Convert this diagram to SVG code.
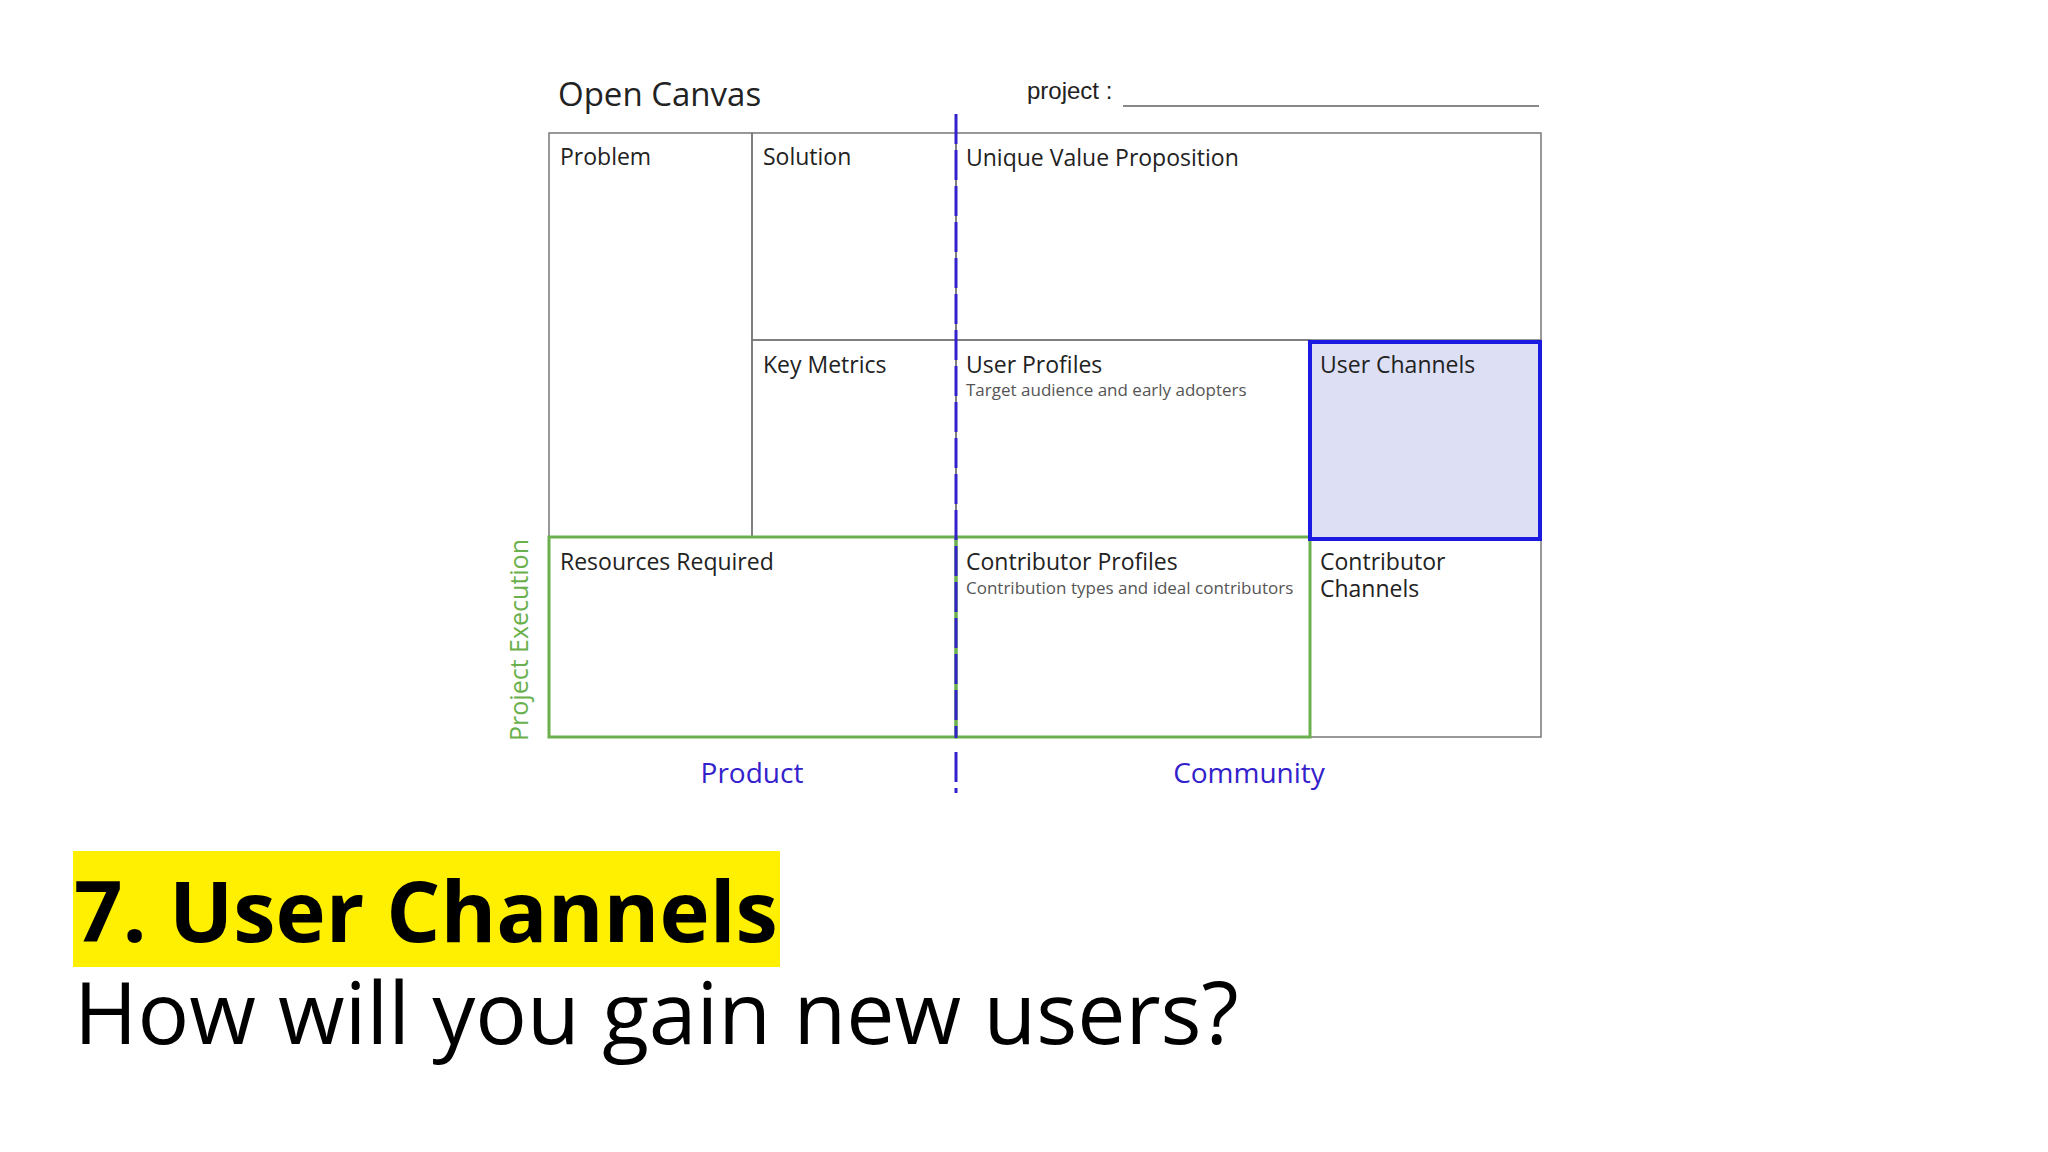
<svg xmlns="http://www.w3.org/2000/svg" width="2048" height="1152" viewBox="0 0 2048 1152">
<style>
.l{font-family:"Open Sans","Noto Sans",sans-serif;font-size:23px;fill:#222}
.s{font-family:"Open Sans","Noto Sans",sans-serif;font-size:17px;fill:#555}
.c{fill:none;stroke:#777;stroke-width:1.5}
.ax{font-family:"Open Sans","Noto Sans",sans-serif;font-size:28px;fill:#3322cc;text-anchor:middle}
.d{stroke:#3322cc;stroke-width:3;stroke-dasharray:30,6}
</style>
<rect width="2048" height="1152" fill="#fff"/>
<text x="558" y="106" font-family="Open Sans, sans-serif" font-size="33" fill="#222">Open Canvas</text>
<text x="1027" y="99" font-family="Liberation Sans, sans-serif" font-size="24" fill="#222">project :</text>
<line x1="1123" y1="106" x2="1539" y2="106" stroke="#888" stroke-width="2"/>
<g id="problem"><rect class="c" x="549" y="133" width="203" height="404"/><text class="l" x="560" y="165">Problem</text></g>
<g id="solution"><rect class="c" x="752" y="133" width="204" height="207"/><text class="l" x="763" y="165">Solution</text></g>
<g id="uvp"><rect class="c" x="956" y="133" width="585" height="207"/><text class="l" x="966" y="166">Unique Value Proposition</text></g>
<g id="keymetrics"><rect class="c" x="752" y="340" width="204" height="197"/><text class="l" x="763" y="373">Key Metrics</text></g>
<g id="userprofiles"><rect class="c" x="956" y="340" width="354" height="197"/><text class="l" x="966" y="373">User Profiles</text><text class="s" x="966" y="396">Target audience and early adopters</text></g>
<g id="contribchannels"><rect class="c" x="1310" y="537" width="231" height="200"/><text class="l" x="1320" y="570">Contributor</text><text class="l" x="1320" y="597">Channels</text></g>
<g id="resources"><rect x="549" y="537" width="407" height="200" fill="none" stroke="#6ab04c" stroke-width="3"/><text class="l" x="560" y="570">Resources Required</text></g>
<g id="contribprofiles"><rect x="956" y="537" width="354" height="200" fill="none" stroke="#6ab04c" stroke-width="3"/><text class="l" x="966" y="570">Contributor Profiles</text><text class="s" x="966" y="594">Contribution types and ideal contributors</text></g>
<g id="userchannels"><rect x="1310" y="342" width="230" height="197" fill="#dde0f5" stroke="#1a1ae0" stroke-width="4"/><text class="l" x="1320" y="373">User Channels</text></g>
<g id="connectors"><line class="d" x1="956" y1="114" x2="956" y2="738"/><line class="d" x1="956" y1="752" x2="956" y2="793"/></g>
<text transform="translate(528,640) rotate(-90)" text-anchor="middle" font-family="Open Sans, sans-serif" font-size="25" fill="#6ab04c">Project Execution</text>
<text class="ax" x="752" y="783">Product</text>
<text class="ax" x="1249" y="783">Community</text>
<rect x="73" y="851" width="707" height="116" fill="#ffef00"/>
<text x="74" y="942" font-family="Open Sans, sans-serif" font-weight="bold" font-size="85" fill="#000">7. User Channels</text>
<text x="74" y="1044" font-family="Open Sans, sans-serif" font-size="86" fill="#000">How will you gain new users?</text>
</svg>
